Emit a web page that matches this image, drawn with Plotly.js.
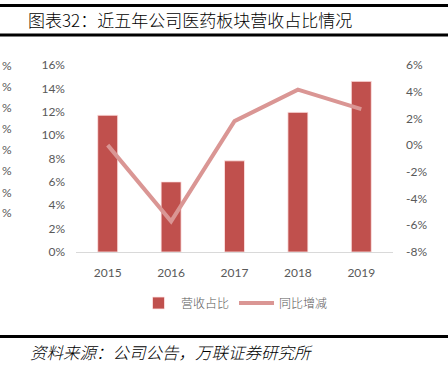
<!DOCTYPE html>
<html><head><meta charset="utf-8">
<script src="https://cdn.plot.ly/plotly-3.0.1.min.js"></script>
<style>body{margin:0;padding:0;background:#fff}#chart{width:448px;height:371px}</style>
</head><body><div id="chart"></div>
<script>
const years = ['2015','2016','2017','2018','2019'];
const revenueShare = [11.7, 6.0, 7.8, 11.95, 14.6];
const yoyChange = [0.0, -5.7, 1.8, 4.15, 2.7];
const leftTicks = [0,2,4,6,8,10,12,14,16];
const rightTicks = [-8,-6,-4,-2,0,2,4,6];
const ghostY = [65, 86.7, 107, 128, 149, 170, 192, 212];

const W = 448, H = 371, L = 76, R = 55, T = 65, B = 119;
const pw = W - L - R, ph = H - T - B;
const px = x => (x - L) / pw;
const py = y => (H - B - y) / ph;

const tickFont = {family: 'Lato, "Liberation Sans", sans-serif', size: 12, color: '#595959'};
const cjk = '"Noto Sans CJK SC", sans-serif';

const traces = [
  {type: 'bar', name: '营收占比', x: years, y: revenueShare, yaxis: 'y',
   marker: {color: '#C0504D', line: {color: 'rgba(255,230,230,0.8)', width: 1}}},
  {type: 'scatter', mode: 'lines', name: '同比增减', x: years, y: yoyChange, yaxis: 'y2',
   line: {color: '#DA9694', width: 4}}
];

const annotations = ghostY.map(y => ({
  xref: 'paper', yref: 'paper', x: px(0), y: py(y), xanchor: 'left', yanchor: 'middle',
  text: '%', showarrow: false, font: tickFont
}));
annotations.push({
  xref: 'paper', yref: 'paper', x: px(28), y: py(352), xanchor: 'left', yanchor: 'middle',
  text: '<i>资料来源：公司公告，万联证券研究所</i>', showarrow: false,
  font: {family: cjk, size: 16.5, color: '#000', weight: 300}
});

const lineShape = (y, w) => ({type: 'line', xref: 'paper', yref: 'paper',
  x0: px(0), x1: px(W), y0: py(y), y1: py(y), line: {color: '#000', width: w}});

const layout = {
  width: W, height: H,
  margin: {l: L, r: R, t: T, b: B},
  paper_bgcolor: '#fff', plot_bgcolor: '#fff',
  showlegend: true,
  title: {text: '图表32：近五年公司医药板块营收占比情况', xref: 'container', yref: 'container',
    x: 28 / W, xanchor: 'left', y: 1 - 21 / H, yanchor: 'middle',
    font: {family: cjk, size: 17, color: '#000', weight: 300}},
  bargap: 0.685,
  xaxis: {type: 'category', range: [-0.5, 4.5], showgrid: false, zeroline: false,
    showline: true, linecolor: '#D9D9D9', linewidth: 1, ticks: '',
    tickfont: tickFont, ticklabelstandoff: 10},
  yaxis: {range: [0, 16], tickmode: 'array', tickvals: leftTicks,
    ticktext: leftTicks.map(v => v + '%'), showgrid: false,
    zeroline: false, showline: false, ticks: '', tickfont: tickFont, ticklabelstandoff: 10},
  yaxis2: {overlaying: 'y', side: 'right', range: [-8, 6], tickmode: 'array', tickvals: rightTicks,
    ticktext: rightTicks.map(v => v + '%'), showgrid: false, zeroline: false, showline: false, ticks: '',
    tickfont: tickFont, ticklabelstandoff: 12},
  legend: {orientation: 'h', x: 0.5, xanchor: 'center', y: py(303), yanchor: 'middle',
    font: {family: cjk, size: 12, color: '#595959', weight: 300}, itemwidth: 35, traceorder: 'normal'},
  annotations: annotations,
  shapes: [lineShape(5.5, 3), lineShape(35, 3), lineShape(336.5, 3)]
};

Plotly.newPlot('chart', traces, layout, {displayModeBar: false, staticPlot: true});
</script></body></html>
